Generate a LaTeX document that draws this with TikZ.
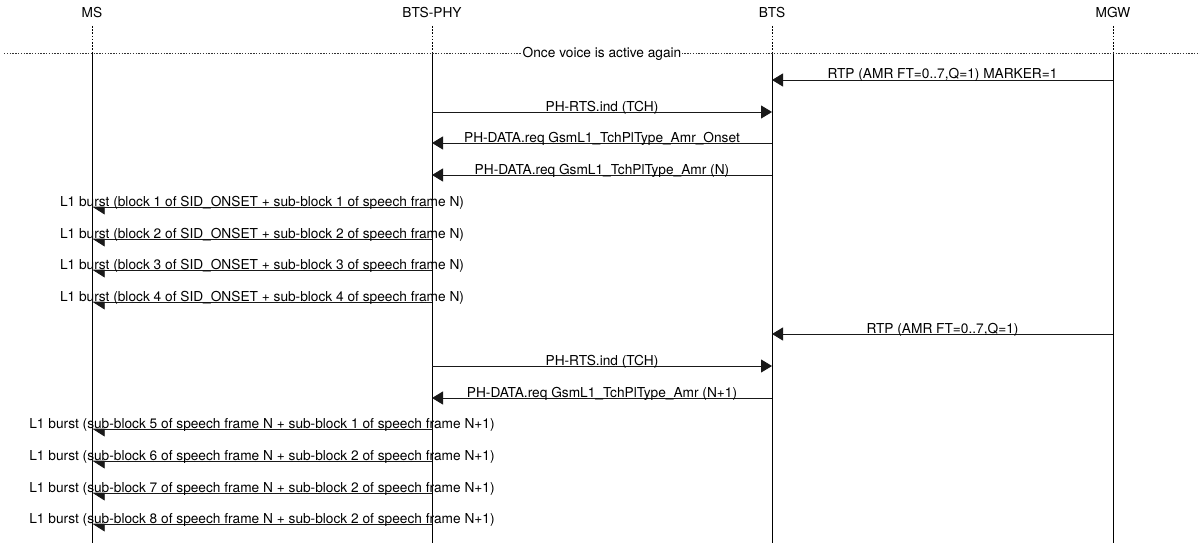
\documentclass[tikz,border=0pt]{standalone}
\usepackage{fontspec}
\setmainfont{TeX Gyre Heros}
\usetikzlibrary{arrows.meta,calc}
\begin{document}
\begin{tikzpicture}[x=1pt,y=-1pt,
  every node/.style={font=\fontsize{13.7}{16}\selectfont, inner sep=0pt},
  entname/.style={anchor=base},
  lifeline/.style={line width=0.9pt, black},
  lifetop/.style={line width=0.9pt, black, dash pattern=on 1.6pt off 1.6pt},
  separator/.style={line width=0.8pt, black!80, dash pattern=on 1.4pt off 1.4pt},
  seplabel/.style={anchor=base, fill=white, inner xsep=1pt, inner ysep=2pt},
  msg/.style={line width=0.9pt, black!90, -{Triangle[length=11pt,width=13pt]}},
  halfmsg/.style={line width=0.9pt, black!90, -{Triangle[length=12pt,width=15pt,left]}},
  lab/.style={anchor=base}
]
\useasboundingbox (0,0) rectangle (1200,543);

% entities
\node[entname] (ms)  at (92,18)   {MS};
\node[entname] (phy) at (432,18)  {BTS-PHY};
\node[entname] (bts) at (772,18)  {BTS};
\node[entname] (mgw) at (1113,18) {MGW};

\foreach \n/\x in {ms/92,phy/432,bts/772,mgw/1113}{
  \coordinate (\n-t) at (\x,26);
  \coordinate (\n-s) at (\x,53);
  \coordinate (\n-b) at (\x,543);
  \draw[lifetop] (\n-t) -- (\n-s);
  \draw[lifeline] (\n-s) -- (\n-b);
}

% separator
\coordinate (sepL) at (4,53);
\coordinate (sepR) at (1200,53);
\draw[separator] (sepL) -- (sepR);
\node[seplabel] (sep) at (602,57.5) {Once voice is active again};

% row coordinates
\foreach \i/\y in {1/80,2/112,3/143,4/175,5/207,6/239,7/270,8/302,9/334,10/366,11/398,12/429,13/461,14/493,15/524}{
  \coordinate (ms\i)  at (92,\y);
  \coordinate (phy\i) at (432,\y);
  \coordinate (bts\i) at (772,\y);
  \coordinate (mgw\i) at (1113,\y);
}

% messages
\draw[msg] (mgw1) -- (bts1);
\node[lab] (l1) at ($(mgw1)!0.5!(bts1)+(0,-1)$) {RTP (AMR FT=0..7,Q=1) MARKER=1};
\draw[msg] (phy2) -- (bts2);
\node[lab] (l2) at ($(phy2)!0.5!(bts2)+(0,-1)$) {PH-RTS.ind (TCH)};
\draw[msg] (bts3) -- (phy3);
\node[lab] (l3) at ($(bts3)!0.5!(phy3)+(0,-1)$) {PH-DATA.req GsmL1\_TchPlType\_Amr\_Onset};
\draw[msg] (bts4) -- (phy4);
\node[lab] (l4) at ($(bts4)!0.5!(phy4)+(0,-1)$) {PH-DATA.req GsmL1\_TchPlType\_Amr (N)};

\foreach \i/\k in {5/1,6/2,7/3,8/4}{
  \draw[halfmsg] (phy\i) -- (ms\i);
  \node[lab] (l\i) at ($(phy\i)!0.5!(ms\i)+(0,-1)$) {L1 burst (block \k\ of SID\_ONSET + sub-block \k\ of speech frame N)};
}

\draw[msg] (mgw9) -- (bts9);
\node[lab] (l9) at ($(mgw9)!0.5!(bts9)+(0,-1)$) {RTP (AMR FT=0..7,Q=1)};
\draw[msg] (phy10) -- (bts10);
\node[lab] (l10) at ($(phy10)!0.5!(bts10)+(0,-1)$) {PH-RTS.ind (TCH)};
\draw[msg] (bts11) -- (phy11);
\node[lab] (l11) at ($(bts11)!0.5!(phy11)+(0,-1)$) {PH-DATA.req GsmL1\_TchPlType\_Amr (N+1)};

\foreach \i/\a/\b in {12/5/1,13/6/2,14/7/2,15/8/2}{
  \draw[halfmsg] (phy\i) -- (ms\i);
  \node[lab] (l\i) at ($(phy\i)!0.5!(ms\i)+(0,-1)$) {L1 burst (sub-block \a\ of speech frame N + sub-block \b\ of speech frame N+1)};
}
\end{tikzpicture}
\end{document}
